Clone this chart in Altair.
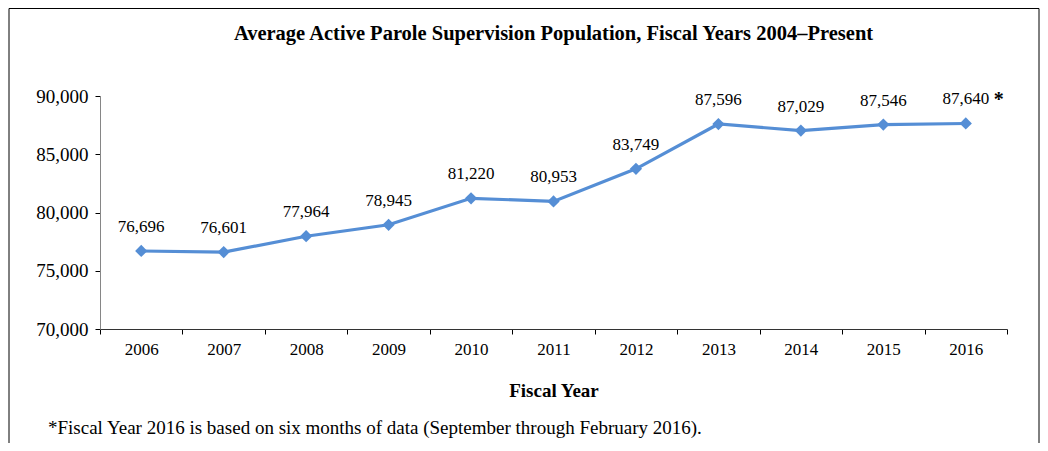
import altair as alt
import pandas as pd

years = ["2006", "2007", "2008", "2009", "2010", "2011", "2012", "2013", "2014", "2015", "2016"]
values = [76696, 76601, 77964, 78945, 81220, 80953, 83749, 87596, 87029, 87546, 87640]
star_year = ["2016"]
star_value = [87640]
title_text = "Average Active Parole Supervision Population, Fiscal Years 2004\u2013Present"
footnote_text = "*Fiscal Year 2016 is based on six months of data (September through February 2016)."

df = pd.DataFrame({"year": years, "value": values})
df["label"] = [f"{v:,}" for v in values]
star_df = pd.DataFrame({"year": star_year, "value": star_value, "mark": ["*"]})

FONT = "Liberation Serif"
BLUE = "#558ED5"
AXISGREY = "#868686"

x_enc = alt.X(
    "year:N",
    sort=years,
    scale=alt.Scale(paddingInner=0, paddingOuter=0),
    axis=alt.Axis(
        title="Fiscal Year",
        titleFont=FONT,
        titleFontSize=19,
        titleFontWeight="bold",
        titleColor="black",
        titlePadding=24,
        labelFont=FONT,
        labelFontSize=17,
        labelColor="black",
        labelAngle=0,
        labelPadding=7,
        tickBand="extent",
        tickSize=5,
        tickColor="black",
        domainColor="#333333",
        grid=False,
    ),
)
y_enc = alt.Y(
    "value:Q",
    scale=alt.Scale(domain=[70000, 90000], nice=False, zero=False),
    axis=alt.Axis(
        title=None,
        values=[70000, 75000, 80000, 85000, 90000],
        format=",.0f",
        labelFont=FONT,
        labelFontSize=19,
        labelColor="black",
        labelPadding=7,
        tickSize=5,
        tickColor="black",
        domainColor=AXISGREY,
        grid=False,
    ),
)

base = alt.Chart(df)

line = base.mark_line(color=BLUE, strokeWidth=3.2).encode(x=x_enc, y=y_enc)
points = base.mark_point(
    shape="diamond", filled=True, color=BLUE, size=150, opacity=1
).encode(x=x_enc, y=y_enc)
labels = base.mark_text(
    font=FONT, fontSize=17, color="black", dy=-24
).encode(x=x_enc, y=y_enc, text="label:N")
star = alt.Chart(star_df).mark_text(
    font=FONT, fontSize=20, fontWeight="bold", color="black", dx=33, dy=-23
).encode(x=x_enc, y=y_enc, text="mark:N")

border = alt.Chart(pd.DataFrame({"a": [0]})).mark_rect(
    fill=None, stroke="black", strokeWidth=1
).encode(
    x=alt.value(-91), x2=alt.value(939), y=alt.value(-87.5), y2=alt.value(400)
)

title = alt.Chart(pd.DataFrame({"t": [title_text]})).mark_text(
    font=FONT, fontSize=20.5, fontWeight="bold", color="black", align="center", baseline="middle"
).encode(x=alt.value(453.5), y=alt.value(-62), text="t:N")

footnote = alt.Chart(pd.DataFrame({"t": [footnote_text]})).mark_text(
    font=FONT, fontSize=19, color="black", align="left", baseline="middle"
).encode(x=alt.value(-52), y=alt.value(332), text="t:N")

chart = alt.layer(border, title, line, points, labels, star, footnote).properties(
    width=907,
    height=233,
    padding={"left": 92, "top": 88, "right": 33, "bottom": 114},
    autosize=alt.AutoSizeParams(type="none"),
    background="white",
).configure_view(stroke=None)

chart.save("out.html", embed_options={"renderer": "svg", "actions": False})
